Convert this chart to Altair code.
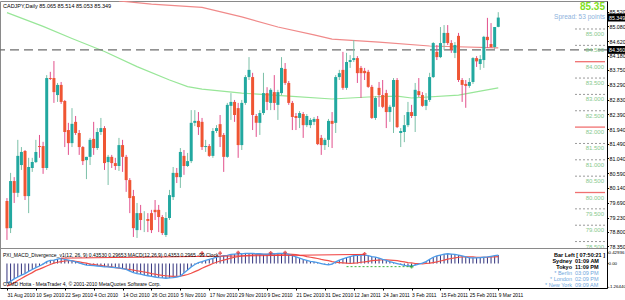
import json
import altair as alt
import pandas as pd

FONT = "Liberation Sans"

# ---------------- CADJPY, Daily : price bars ----------------
opens = [79.74, 78.91, 80.35, 79.99, 80.84, 81.27, 79.89, 80.75, 80.93, 81.42,
         81.42, 80.75, 83.50, 83.50, 82.98, 83.29, 82.80, 81.91, 81.51, 82.16,
         81.82, 81.39, 80.99, 81.09, 81.64, 81.36, 81.85, 81.97, 80.93, 81.09,
         80.90, 80.81, 81.45, 81.09, 80.38, 79.89, 78.85, 79.37, 79.16, 79.19,
         79.37, 79.47, 79.47, 79.25, 78.70, 79.22, 79.86, 80.60, 80.47, 81.12,
         80.81, 80.96, 82.13, 82.19, 82.16, 81.39, 81.42, 81.12, 81.88, 82.09,
         81.76, 81.09, 82.65, 82.77, 82.58, 81.45, 82.74, 83.53, 83.53, 82.34,
         82.13, 82.43, 83.04, 82.74, 83.07, 82.68, 83.04, 83.78, 83.35, 82.74,
         82.34, 82.28, 82.40, 82.06, 82.06, 82.16, 82.25, 81.67, 81.45, 81.61,
         82.19, 82.13, 83.53, 83.75, 83.20, 83.99, 84.05, 84.11, 83.81, 83.72,
         83.69, 83.23, 82.28, 83.20, 82.98, 83.04, 82.46, 82.62, 83.44, 81.82,
         81.85, 82.06, 82.46, 82.34, 83.10, 82.98, 82.65, 82.83, 83.53, 84.30,
         84.14, 84.57, 84.88, 84.57, 84.27, 84.79, 83.44, 83.32, 83.26, 83.38,
         84.11, 83.93, 84.05, 84.76, 84.54, 84.45, 85.065]
highs = [79.83, 80.60, 80.47, 81.61, 81.39, 81.30, 81.06, 81.06, 81.61, 81.76,
         81.55, 83.59, 83.69, 84.02, 83.35, 83.38, 82.83, 82.13, 82.58, 82.34,
         81.91, 81.42, 81.09, 81.67, 82.16, 81.97, 82.28, 82.03, 81.15, 81.15,
         81.06, 81.67, 81.61, 81.15, 80.44, 80.08, 79.68, 79.62, 79.43, 79.37,
         79.47, 79.77, 79.62, 79.31, 79.40, 80.08, 80.78, 80.75, 81.36, 81.30,
         81.21, 82.52, 82.52, 82.46, 82.28, 81.61, 81.48, 81.97, 82.06, 82.37,
         81.82, 82.74, 83.04, 82.83, 82.74, 82.83, 83.59, 84.14, 83.66, 82.40,
         82.52, 83.66, 83.22, 83.19, 83.59, 83.14, 84.14, 83.96, 83.41, 82.80,
         82.43, 82.49, 82.46, 82.40, 82.28, 82.31, 82.34, 81.76, 81.67, 82.25,
         82.46, 83.59, 83.75, 84.30, 84.27, 84.20, 84.66, 84.17, 83.87, 83.81,
         83.75, 83.29, 82.95, 83.38, 83.44, 83.14, 82.68, 83.50, 83.50, 81.97,
         82.37, 82.77, 82.68, 83.35, 83.50, 83.07, 83.04, 83.66, 84.60, 84.51,
         85.06, 85.12, 85.12, 84.66, 84.60, 84.88, 83.50, 83.44, 83.50, 84.14,
         84.17, 84.20, 84.79, 85.34, 85.18, 85.06, 85.514]
lows = [78.55, 78.76, 79.68, 79.86, 80.69, 79.77, 79.37, 80.63, 80.90, 81.06,
        80.57, 80.69, 83.44, 82.74, 82.77, 82.71, 81.39, 81.15, 81.39, 81.76,
        81.15, 80.84, 80.41, 80.84, 81.15, 81.30, 81.76, 80.69, 80.23, 80.75,
        80.69, 80.66, 80.63, 80.02, 79.37, 78.64, 78.61, 78.85, 78.79, 78.79,
        78.76, 79.16, 78.79, 78.70, 78.64, 79.16, 79.77, 80.29, 80.14, 80.54,
        80.78, 80.90, 82.03, 81.76, 81.30, 81.24, 81.09, 81.06, 81.82, 81.39,
        80.63, 81.06, 82.22, 82.16, 81.06, 81.30, 82.68, 83.44, 81.91, 81.70,
        81.76, 82.37, 82.52, 82.52, 82.52, 82.22, 82.98, 83.29, 82.68, 81.91,
        81.91, 81.97, 81.67, 82.00, 81.97, 82.06, 81.45, 81.15, 81.30, 81.39,
        81.36, 81.82, 83.44, 83.14, 83.14, 83.81, 83.99, 83.35, 82.89, 83.44,
        83.20, 82.25, 82.22, 82.62, 82.58, 81.97, 82.16, 81.82, 81.97, 81.39,
        81.54, 82.00, 82.28, 81.85, 82.92, 82.62, 82.52, 82.77, 83.50, 84.05,
        84.11, 84.36, 84.51, 84.27, 84.11, 83.38, 82.77, 82.59, 83.20, 83.32,
        83.84, 83.75, 83.81, 84.42, 84.42, 84.39, 85.053]
closes = [78.91, 80.35, 79.99, 81.12, 81.24, 79.89, 80.78, 80.93, 81.24, 81.39,
          80.75, 83.50, 83.47, 83.07, 83.29, 82.77, 81.85, 81.51, 82.10, 81.82,
          81.39, 80.96, 81.09, 81.61, 81.36, 81.85, 81.97, 80.90, 81.09, 80.90,
          80.81, 81.45, 81.09, 80.38, 79.83, 78.91, 79.37, 79.16, 79.16, 79.13,
          78.85, 79.40, 79.25, 78.76, 79.22, 79.92, 80.60, 80.47, 81.24, 80.81,
          80.96, 82.13, 82.19, 82.00, 81.39, 81.42, 81.12, 81.88, 81.97, 81.70,
          81.09, 82.68, 82.77, 82.37, 81.45, 82.74, 83.53, 83.75, 82.37, 82.13,
          82.43, 83.04, 82.77, 83.14, 82.74, 83.07, 83.81, 83.35, 82.74, 82.31,
          82.28, 82.43, 82.06, 82.34, 82.22, 82.25, 81.48, 81.45, 81.61, 82.19,
          82.10, 83.53, 83.65, 83.20, 83.99, 84.05, 84.11, 83.65, 83.65, 83.65,
          83.23, 82.28, 82.89, 82.98, 82.62, 82.46, 82.62, 83.44, 82.00, 81.88,
          82.06, 82.46, 82.34, 83.14, 82.98, 82.65, 82.83, 83.53, 84.57, 84.14,
          84.57, 84.88, 84.57, 84.36, 84.51, 83.44, 83.29, 83.26, 83.38, 84.11,
          84.01, 84.08, 84.76, 84.66, 84.45, 85.06, 85.349]

# moving averages (sampled along the bar index)
green_ma_bar = [0, 10, 18, 27, 36, 45, 50, 54, 65, 78, 90, 100, 108, 112, 125, 131, 136]
green_ma = [85.50, 85.08, 84.71, 84.31, 83.85, 83.44, 83.24, 83.16, 83.04, 82.95,
            82.86, 82.92, 82.95, 82.89, 82.98, 83.10, 83.20]
red_ma_bar = [31, 40, 54, 65, 75, 85, 90, 103, 117, 136]
red_ma = [85.86, 85.76, 85.66, 85.37, 85.06, 84.82, 84.69, 84.60, 84.48, 84.42]

# ---------------- MACD window ----------------
macd = [-0.62, -0.57, -0.49, -0.43, -0.37, -0.32, -0.25, -0.19, -0.13, -0.08,
        -0.02, 0.06, 0.10, 0.11, 0.14, 0.16, 0.13, 0.11, 0.08, 0.05,
        0.02, -0.02, -0.05, -0.06, -0.07, -0.08, -0.09, -0.11, -0.11, -0.12,
        -0.13, -0.14, -0.16, -0.19, -0.24, -0.29, -0.32, -0.34, -0.37, -0.39,
        -0.41, -0.43, -0.45, -0.46, -0.47, -0.46, -0.45, -0.43, -0.40, -0.30,
        -0.21, -0.11, -0.03, 0.03, 0.06, 0.10, 0.13, 0.16, 0.20, 0.23,
        0.25, 0.26, 0.29, 0.30, 0.31, 0.31, 0.32, 0.32, 0.32, 0.31,
        0.31, 0.30, 0.30, 0.31, 0.31, 0.32, 0.32, 0.32, 0.29, 0.25,
        0.21, 0.17, 0.13, 0.10, 0.07, 0.05, 0.03, 0.00, -0.03, -0.04,
        -0.02, 0.05, 0.11, 0.15, 0.19, 0.22, 0.25, 0.26, 0.27, 0.27,
        0.25, 0.22, 0.20, 0.17, 0.13, 0.10, 0.06, 0.03, 0.00, -0.03,
        -0.06, -0.08, -0.08, -0.05, -0.02, 0.01, 0.06, 0.13, 0.20, 0.24,
        0.27, 0.30, 0.31, 0.30, 0.29, 0.27, 0.24, 0.21, 0.18, 0.18,
        0.18, 0.19, 0.20, 0.21, 0.23, 0.25, 0.27]
signal = [-0.72, -0.67, -0.61, -0.54, -0.48, -0.41, -0.35, -0.29, -0.22, -0.18,
          -0.13, -0.08, -0.03, 0.01, 0.04, 0.06, 0.08, 0.09, 0.09, 0.07,
          0.05, 0.03, 0.01, -0.02, -0.03, -0.05, -0.06, -0.08, -0.10, -0.11,
          -0.13, -0.15, -0.16, -0.18, -0.19, -0.21, -0.23, -0.25, -0.27, -0.29,
          -0.32, -0.34, -0.36, -0.38, -0.39, -0.40, -0.41, -0.41, -0.40, -0.38,
          -0.35, -0.31, -0.26, -0.21, -0.15, -0.10, -0.05, 0.00, 0.04, 0.08,
          0.11, 0.14, 0.17, 0.20, 0.22, 0.24, 0.25, 0.26, 0.27, 0.28,
          0.29, 0.29, 0.29, 0.29, 0.30, 0.30, 0.30, 0.30, 0.30, 0.29,
          0.28, 0.26, 0.25, 0.22, 0.20, 0.18, 0.16, 0.13, 0.11, 0.09,
          0.06, 0.04, 0.03, 0.02, 0.01, 0.00, 0.01, 0.02, 0.04, 0.05,
          0.07, 0.09, 0.10, 0.11, 0.12, 0.12, 0.11, 0.10, 0.09, 0.07,
          0.05, 0.03, 0.02, 0.00, 0.00, -0.01, 0.00, 0.01, 0.03, 0.05,
          0.08, 0.11, 0.14, 0.16, 0.18, 0.20, 0.21, 0.21, 0.21, 0.21,
          0.20, 0.20, 0.20, 0.20, 0.21, 0.21, 0.22]

# divergence lines and signal marks of the MACD indicator
bear_div_bar = [15, 99]
bear_div = [0.17, 0.29]
bull_div_bar = [94, 112]
bull_div = [-0.10, -0.10]
bear_mark_bar = [54, 59, 64, 73, 77, 99]
bear_mark = [0.33, 0.33, 0.35, 0.34, 0.35, 0.31]
bull_mark_bar = [112]
bull_mark = [-0.10]

date_labels = ["31 Aug 2010", "10 Sep 2010", "22 Sep 2010", "4 Oct 2010", "14 Oct 2010",
               "26 Oct 2010", "5 Nov 2010", "17 Nov 2010", "29 Nov 2010", "9 Dec 2010",
               "21 Dec 2010", "31 Dec 2010", "12 Jan 2011", "24 Jan 2011", "3 Feb 2011",
               "15 Feb 2011", "25 Feb 2011", "9 Mar 2011"]
date_label_bars = list(range(0, 8 * len(date_labels), 8))

price_ticks = [85.520, 85.080, 84.620, 84.180, 83.750, 83.290, 82.830, 82.390, 81.940,
               81.490, 81.040, 80.590, 80.140, 79.690, 79.230, 78.800, 78.350]
round_levels = [85.0, 84.5, 84.0, 83.5, 83.0, 82.5, 82.0, 81.5, 81.0, 80.5, 80.0, 79.5, 79.0, 78.5]
major_levels = [84.0, 82.0, 80.0]
hline_price = 84.36
last_price = 85.349
macd_scale_labels = ["0.42936", "0.00", "-1.26440"]
macd_scale_at = [0.335, 0.0, -0.76]

# ---------------- styling / geometry ----------------
BULL = "#22A8A0"
BEAR = "#EF5533"
BULL_WICK = "#7CC0A8"
BEAR_WICK = "#E2508C"
LEVEL_TXT = "#86C98E"

BAR0_PX, BAR_PX = 2.0, 3.673
PLOT_W, PLOT_H = 607, 287          # both windows share one plot area
SEP_Y = 247.5                      # border between price and MACD windows
x_scale = alt.Scale(domain=[-BAR0_PX / BAR_PX, (PLOT_W - BAR0_PX) / BAR_PX], nice=False, zero=False)
# price window: top 247 px of the plot; MACD window: bottom 39 px
y_price = alt.Scale(domain=[77.080, 85.856], nice=False, zero=False)
y_macd = alt.Scale(domain=[-0.780, 8.360], nice=False, zero=False)

lbl_js = json.dumps(date_labels)
date_axis = alt.Axis(values=date_label_bars, labelExpr=f"{lbl_js}[round(datum.value / 8)]",
                     labelAlign="left", labelBaseline="top", labelFont=FONT, labelFontSize=4.9,
                     labelColor="black", labelPadding=2, labelFlush=False, labelOverlap=False,
                     tickSize=2, tickColor="black", domainColor="black", grid=False, title=None)
price_axis = alt.Axis(orient="right", values=price_ticks, format=".3f", title=None,
                      labelFont=FONT, labelFontSize=5.3, labelColor="black", labelPadding=0.5,
                      tickSize=1.5, tickColor="black", domainColor="black", grid=False)
X = alt.X("i:Q", scale=x_scale, axis=date_axis, title=None)


def PY(field):
    return alt.Y(field, scale=y_price, axis=price_axis, title=None)


def MY(field):
    return alt.Y(field, scale=y_macd, axis=None, title=None)


def note(txt, x, y, size=5.5, color="black", align="left", weight="normal"):
    return alt.Chart(pd.DataFrame({"t": [txt]})).mark_text(
        align=align, baseline="middle", font=FONT, fontSize=size, color=color,
        fontWeight=weight).encode(x=alt.value(x), y=alt.value(y), text="t:N")


# ---------------- price window ----------------
bars = pd.DataFrame({"i": range(len(opens)), "open": opens, "high": highs,
                     "low": lows, "close": closes})
is_up = "datum.close >= datum.open"

wicks = alt.Chart(bars).mark_rule(strokeWidth=1).encode(
    x=X, y=PY("low:Q"), y2="high:Q",
    color=alt.condition(is_up, alt.value(BULL_WICK), alt.value(BEAR_WICK)))
bodies = alt.Chart(bars).mark_bar(size=3, strokeWidth=0).encode(
    x=X, y=PY("open:Q"), y2="close:Q",
    color=alt.condition(is_up, alt.value(BULL), alt.value(BEAR)))

gma = pd.DataFrame({"i": green_ma_bar, "v": green_ma})
rma = pd.DataFrame({"i": red_ma_bar, "v": red_ma})
green_line = alt.Chart(gma).mark_line(color="#98E698", strokeWidth=1.2, clip=True).encode(
    x=X, y=PY("v:Q"))
red_line = alt.Chart(rma).mark_line(color="#F08A8A", strokeWidth=1.2, clip=True).encode(
    x=X, y=PY("v:Q"))

hline = alt.Chart(pd.DataFrame({"p": [hline_price]})).mark_rule(
    color="#6E6E6E", strokeWidth=1.3, strokeDash=[9, 5]).encode(y=PY("p:Q"))

lv = pd.DataFrame({"level": round_levels})
lv["label"] = [f"{v:.3f}" for v in round_levels]
lv["major"] = [v in major_levels for v in round_levels]
level_minor = alt.Chart(lv).transform_filter("!datum.major").mark_rule(
    color="#9A9A9A", strokeWidth=1, strokeDash=[2, 2]).encode(
    x=alt.value(575), x2=alt.value(605), y=PY("level:Q"))
level_major = alt.Chart(lv).transform_filter("datum.major").mark_rule(
    color="#F07070", strokeWidth=1.3).encode(
    x=alt.value(575), x2=alt.value(605), y=PY("level:Q"))
level_text = alt.Chart(lv).mark_text(align="right", baseline="middle", dy=5, font=FONT,
                                     fontSize=6, color=LEVEL_TXT).encode(
    x=alt.value(604), y=PY("level:Q"), text="label:N")

tags = pd.DataFrame({"p": [last_price, hline_price],
                     "t": [f"{last_price:.3f}", f"{hline_price:.3f}"]})
tag_box = alt.Chart(tags).transform_calculate(hi="datum.p + 0.12", lo="datum.p - 0.12").mark_rect(
    color="black").encode(x=alt.value(608), x2=alt.value(625), y=PY("hi:Q"), y2="lo:Q")
tag_text = alt.Chart(tags).mark_text(align="left", baseline="middle", font=FONT, fontSize=5.3,
                                     color="white").encode(
    x=alt.value(609), y=PY("p:Q"), text="t:N")

price_window = alt.layer(green_line, red_line, hline, level_minor, level_major, level_text,
                         wicks, bodies, tag_box, tag_text)

# ---------------- MACD window ----------------
md = pd.DataFrame({"i": range(len(macd)), "macd": macd, "signal": signal, "zero": 0.0})
hist = alt.Chart(md).mark_rule(color="#34347E", strokeWidth=1).encode(
    x=X, y=MY("zero:Q"), y2="macd:Q")
macd_line = alt.Chart(md).mark_line(color="#4C9BE8", strokeWidth=1.3).encode(
    x=X, y=MY("macd:Q"))
sig_line = alt.Chart(md).mark_line(color="#F0504A", strokeWidth=1.2).encode(
    x=X, y=MY("signal:Q"))
bear_div_line = alt.Chart(pd.DataFrame({"i": bear_div_bar, "v": bear_div})).mark_line(
    color="#F03C3C", strokeWidth=1).encode(x=X, y=MY("v:Q"))
bull_div_line = alt.Chart(pd.DataFrame({"i": bull_div_bar, "v": bull_div})).mark_line(
    color="#3CB43C", strokeWidth=1, strokeDash=[2, 2]).encode(x=X, y=MY("v:Q"))
bear_marks = alt.Chart(pd.DataFrame({"i": bear_mark_bar, "v": bear_mark})).mark_point(
    shape="cross", size=14, filled=True, color="#E01E1E").encode(x=X, y=MY("v:Q"))
bull_marks = alt.Chart(pd.DataFrame({"i": bull_mark_bar, "v": bull_mark})).mark_point(
    shape="cross", size=14, filled=True, color="#1E9A1E").encode(x=X, y=MY("v:Q"))
ms = pd.DataFrame({"v": macd_scale_at, "t": macd_scale_labels})
macd_ticks = alt.Chart(ms).mark_rule(color="black").encode(
    x=alt.value(607), x2=alt.value(608.5), y=MY("v:Q"))
macd_labels = alt.Chart(ms).mark_text(align="left", baseline="middle", font=FONT,
                                      fontSize=4.4, color="black").encode(
    x=alt.value(608.5), y=MY("v:Q"), text="t:N")
macd_window = alt.layer(hist, sig_line, macd_line, bear_div_line, bull_div_line,
                        bear_marks, bull_marks, macd_ticks, macd_labels)

# ---------------- captions ----------------
separator = alt.Chart(pd.DataFrame({"k": [0]})).mark_rule(color="#8A8A8A", strokeWidth=1).encode(
    x=alt.value(0), x2=alt.value(PLOT_W), y=alt.value(SEP_Y))
header = note(f"CADJPY,Daily  {opens[-1]:.3f} {highs[-1]:.3f} {lows[-1]:.3f} {closes[-1]:.3f}", 3, 5)
big_price = note(f"{last_price:.2f}", 605, 6, size=10, color="#7FE01E", align="right", weight="bold")
spread = note("Spread: 53 points", 605, 16, size=6.5, color="#8CB2DC", align="right")
macd_title = note("PXI_MACD_Divergence_v1(12, 26, 9) 0.43530 0.29653  MACD(12,26,9) 0.4353 0.2965 -99 Clock",
                  3, 254, size=5)
copyright_txt = note("OXMD Hotta - MetaTrader 4, \u00a9 2001-2010 MetaQuotes Software Corp.", 3, 283, size=5)

clock_rows = [("Bar Left [ 07:50:21 ]", "", "black", "bold"),
              ("Sydney", "01:09 AM", "black", "bold"),
              ("Tokyo", "11:09 PM", "black", "bold"),
              ("* Berlin", "03:09 PM", "#6FA6DC", "normal"),
              ("* London", "02:09 PM", "#6FA6DC", "normal"),
              ("* New York", "09:09 AM", "#6FA6DC", "normal")]
clock_layers = []
for k, (name, tm, col, wt) in enumerate(clock_rows):
    yy = 254 + 6 * k
    if tm:
        clock_layers.append(note(name, 572, yy, color=col, align="right", weight=wt))
        clock_layers.append(note(tm, 575, yy, color=col, align="left", weight=wt))
    else:
        clock_layers.append(note(name, 605, yy, color=col, align="right", weight=wt))

chart = alt.layer(
    price_window, macd_window, separator, header, big_price, spread,
    macd_title, copyright_txt, *clock_layers,
).resolve_scale(y="independent").properties(
    width=PLOT_W, height=PLOT_H,
    padding={"left": 0, "top": 1, "right": 18, "bottom": 12},
    autosize=alt.AutoSizeParams(type="none"),
    background="white",
).configure_view(stroke="#8A8A8A", strokeWidth=1)

chart.save("out.html", embed_options={"renderer": "svg", "actions": False})
